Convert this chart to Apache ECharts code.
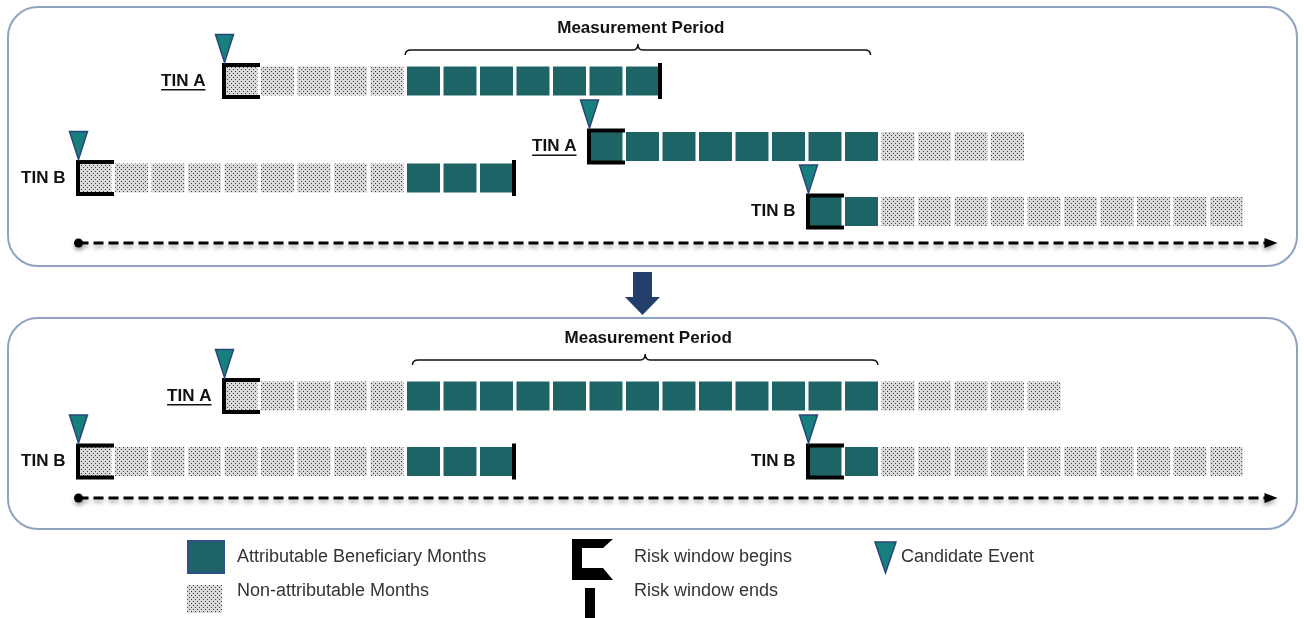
<!DOCTYPE html>
<html>
<head>
    <meta charset="utf-8">
    <title>Risk windows</title>
    <script src="https://cdn.jsdelivr.net/npm/echarts@6/dist/echarts.min.js"></script>
    <style>html, body {margin: 0; padding: 0; background: #fff;}</style>
</head>
<body>
<div id="main" style="width: 1304px;height:618px;"></div>
<script type="text/javascript">
    // month 0 = first month of the measurement period
    // rows: [row position, first month, last month]
    var attributable = [
        [81, 0, 6], [146.5, 5, 12], [178, 0, 2], [211.5, 11, 12],
        [396, 0, 12], [461.5, 0, 2], [461.5, 11, 12]
    ];
    var nonAttributable = [
        [81, -5, -1], [146.5, 13, 16], [178, -9, -1], [211.5, 13, 22],
        [396, -5, -1], [396, 13, 17], [461.5, -9, -1], [461.5, 13, 22]
    ];
    // [month, row position]
    var riskBegins = [[-5, 81], [5, 146.5], [-9, 178], [11, 211.5], [-5, 396], [-9, 461.5], [11, 461.5]];
    var riskEnds = [[7, 81], [3, 178], [3, 461.5]];   // month right after the window
    var candidateEvents = [[-5, 81], [5, 146.5], [-9, 178], [11, 211.5], [-5, 396], [-9, 461.5], [11, 461.5]];
    // [label, month of window start, row position]
    var tinLabels = [
        ['TIN A', -5, 81], ['TIN A', 5, 146.5], ['TIN B', -9, 178], ['TIN B', 11, 211.5],
        ['TIN A', -5, 396], ['TIN B', -9, 461.5], ['TIN B', 11, 461.5]
    ];
    // measurement period brace: [from month, to month, row position]
    var periods = [[-0.05, 12.7, 50], [0.15, 12.9, 360]];
    // time axis arrows: [from month, to month, row position]
    var timelines = [[-9, 23.85, 243], [-9, 23.85, 498]];

    var FONT = '"Liberation Sans", Arial, sans-serif';
    var TEAL = '#1e6466';

    // dotted fill for non-attributable months
    var pat = document.createElement('canvas');
    pat.width = 4; pat.height = 4;
    var pc = pat.getContext('2d');
    pc.fillStyle = '#d9d9d9'; pc.fillRect(0, 0, 4, 4);
    pc.fillStyle = '#3a3a3a'; pc.fillRect(1, 1, 1, 1); pc.fillRect(3, 3, 1, 1);
    var DOTS = {image: pat, repeat: 'repeat'};

    var measure = document.createElement('canvas').getContext('2d');
    measure.font = 'bold 17px ' + FONT;

    function expand(rows) {
        var out = [];
        rows.forEach(function (r) {
            for (var m = r[1]; m <= r[2]; m++) out.push([m, r[0]]);
        });
        return out;
    }

    function cellRender(fill) {
        return function (params, api) {
            var p = api.coord([api.value(0), api.value(1)]);
            var w = api.size([0.904, 0])[0];
            return {
                type: 'rect',
                shape: {x: p[0], y: p[1] - 14.5, width: w, height: 29},
                style: {fill: fill}
            };
        };
    }

    var myChart = echarts.init(document.getElementById('main'));
    var option = {
        animation: false,
        grid: {left: 5.5, right: 21, top: 0, bottom: 0},
        xAxis: {type: 'value', min: -11, max: 24, show: false},
        yAxis: {type: 'value', min: 0, max: 618, inverse: true, show: false},
        graphic: [
            {type: 'rect', shape: {x: 8, y: 7, width: 1289, height: 259, r: 30},
                style: {fill: '#fff', stroke: '#8ea2c2', lineWidth: 2}},
            {type: 'rect', shape: {x: 8, y: 318, width: 1289, height: 211, r: 30},
                style: {fill: '#fff', stroke: '#8ea2c2', lineWidth: 2}},
            {type: 'polygon', shape: {points: [[633, 272], [652, 272], [652, 297], [660, 297], [642.5, 315], [625, 297], [633, 297]]},
                style: {fill: '#243f6b'}},
            // legend
            {type: 'rect', shape: {x: 188, y: 541, width: 36, height: 32},
                style: {fill: TEAL, stroke: '#2c5189', lineWidth: 2}},
            {type: 'rect', shape: {x: 187, y: 585, width: 35, height: 28}, style: {fill: DOTS}},
            {type: 'polygon', shape: {points: [[572, 539], [613, 539], [603, 548], [582, 548], [582, 568], [603, 568], [613, 580], [572, 580]]},
                style: {fill: '#000'}},
            {type: 'rect', shape: {x: 585, y: 588, width: 10, height: 30}, style: {fill: '#000'}},
            {type: 'polygon', shape: {points: [[875, 542], [896, 542], [885.5, 573]]},
                style: {fill: '#17807f', stroke: '#27467a', lineWidth: 1.5}},
            {type: 'text', style: {text: 'Attributable Beneficiary Months', x: 237, y: 557, fill: '#333',
                font: '18px ' + FONT, verticalAlign: 'middle'}},
            {type: 'text', style: {text: 'Non-attributable Months', x: 237, y: 591, fill: '#333',
                font: '18px ' + FONT, verticalAlign: 'middle'}},
            {type: 'text', style: {text: 'Risk window begins', x: 634, y: 557, fill: '#333',
                font: '18px ' + FONT, verticalAlign: 'middle'}},
            {type: 'text', style: {text: 'Risk window ends', x: 634, y: 591, fill: '#333',
                font: '18px ' + FONT, verticalAlign: 'middle'}},
            {type: 'text', style: {text: 'Candidate Event', x: 901, y: 557, fill: '#333',
                font: '18px ' + FONT, verticalAlign: 'middle'}}
        ],
        series: [
            {
                type: 'custom', name: 'timeline', data: timelines, encode: {x: [0, 1], y: 2},
                renderItem: function (params, api) {
                    var a = api.coord([api.value(0), api.value(2)]);
                    var b = api.coord([api.value(1), api.value(2)]);
                    var shadow = {shadowBlur: 4, shadowColor: 'rgba(0,0,0,0.35)', shadowOffsetY: 3};
                    return {
                        type: 'group', children: [
                            {type: 'line', shape: {x1: a[0], y1: a[1], x2: b[0] - 12, y2: b[1]},
                                style: echarts.util.extend({stroke: '#000', lineWidth: 3, lineDash: [10, 5]}, shadow)},
                            {type: 'circle', shape: {cx: a[0], cy: a[1], r: 4.5}, style: echarts.util.extend({fill: '#000'}, shadow)},
                            {type: 'polygon', shape: {points: [[b[0] - 13, b[1] - 5], [b[0], b[1]], [b[0] - 13, b[1] + 5]]},
                                style: echarts.util.extend({fill: '#000'}, shadow)}
                        ]
                    };
                }
            },
            {
                type: 'custom', name: 'Non-attributable Months', data: expand(nonAttributable),
                encode: {x: 0, y: 1}, renderItem: cellRender(DOTS)
            },
            {
                type: 'custom', name: 'Attributable Beneficiary Months', data: expand(attributable),
                encode: {x: 0, y: 1}, renderItem: cellRender(TEAL)
            },
            {
                type: 'custom', name: 'Risk window begins', data: riskBegins, encode: {x: 0, y: 1},
                renderItem: function (params, api) {
                    var p = api.coord([api.value(0), api.value(1)]);
                    var x = p[0] - 0.5;
                    return {
                        type: 'polyline',
                        shape: {points: [[x + 36, p[1] - 16], [x, p[1] - 16], [x, p[1] + 16], [x + 36, p[1] + 16]]},
                        style: {stroke: '#000', lineWidth: 4, fill: null, lineJoin: 'miter'}
                    };
                }
            },
            {
                type: 'custom', name: 'Risk window ends', data: riskEnds, encode: {x: 0, y: 1},
                renderItem: function (params, api) {
                    var p = api.coord([api.value(0), api.value(1)]);
                    return {
                        type: 'rect', shape: {x: p[0] - 4.5, y: p[1] - 18, width: 4, height: 36},
                        style: {fill: '#000'}
                    };
                }
            },
            {
                type: 'custom', name: 'Candidate Event', data: candidateEvents, encode: {x: 0, y: 1},
                renderItem: function (params, api) {
                    var p = api.coord([api.value(0), api.value(1)]);
                    var tip = p[1] - 18.5;
                    return {
                        type: 'polygon',
                        shape: {points: [[p[0] - 9, tip - 28], [p[0] + 9, tip - 28], [p[0], tip]]},
                        style: {fill: '#17807f', stroke: '#27467a', lineWidth: 1.5}
                    };
                }
            },
            {
                type: 'custom', name: 'labels',
                data: tinLabels.map(function (d) { return [d[1], d[2]]; }), encode: {x: 0, y: 1},
                renderItem: function (params, api) {
                    var text = tinLabels[params.dataIndex][0];
                    var p = api.coord([api.value(0), api.value(1)]);
                    // the first label sits a little further from its window in the reference
                    var x = p[0] - (params.dataIndex === 0 ? 19 : 13);
                    var kids = [{
                        type: 'text',
                        style: {text: text, x: x, y: p[1], align: 'right', verticalAlign: 'middle',
                            font: 'bold 17px ' + FONT, fill: '#111'}
                    }];
                    if (text === 'TIN A') {
                        var w = measure.measureText(text).width;
                        kids.push({type: 'rect', shape: {x: x - w, y: p[1] + 8, width: w, height: 1.5},
                            style: {fill: '#111'}});
                    }
                    return {type: 'group', children: kids};
                }
            },
            {
                type: 'custom', name: 'Measurement Period', data: periods, encode: {x: [0, 1], y: 2},
                renderItem: function (params, api) {
                    var a = api.coord([api.value(0), api.value(2)]);
                    var b = api.coord([api.value(1), api.value(2)]);
                    var y = a[1], m = (a[0] + b[0]) / 2;
                    var path = 'M' + a[0] + ',' + (y + 5) +
                        ' Q' + a[0] + ',' + y + ' ' + (a[0] + 6) + ',' + y +
                        ' L' + (m - 5) + ',' + y +
                        ' Q' + m + ',' + y + ' ' + m + ',' + (y - 6) +
                        ' Q' + m + ',' + y + ' ' + (m + 5) + ',' + y +
                        ' L' + (b[0] - 6) + ',' + y +
                        ' Q' + b[0] + ',' + y + ' ' + b[0] + ',' + (y + 5);
                    return {
                        type: 'group', children: [
                            {type: 'path', shape: {pathData: path}, style: {stroke: '#111', lineWidth: 1.5, fill: null}},
                            {type: 'text', style: {text: 'Measurement Period', x: m + 3, y: y - 22,
                                align: 'center', verticalAlign: 'middle', font: 'bold 17px ' + FONT, fill: '#111'}}
                        ]
                    };
                }
            }
        ]
    };
    myChart.setOption(option);
</script>
</body>
</html>
